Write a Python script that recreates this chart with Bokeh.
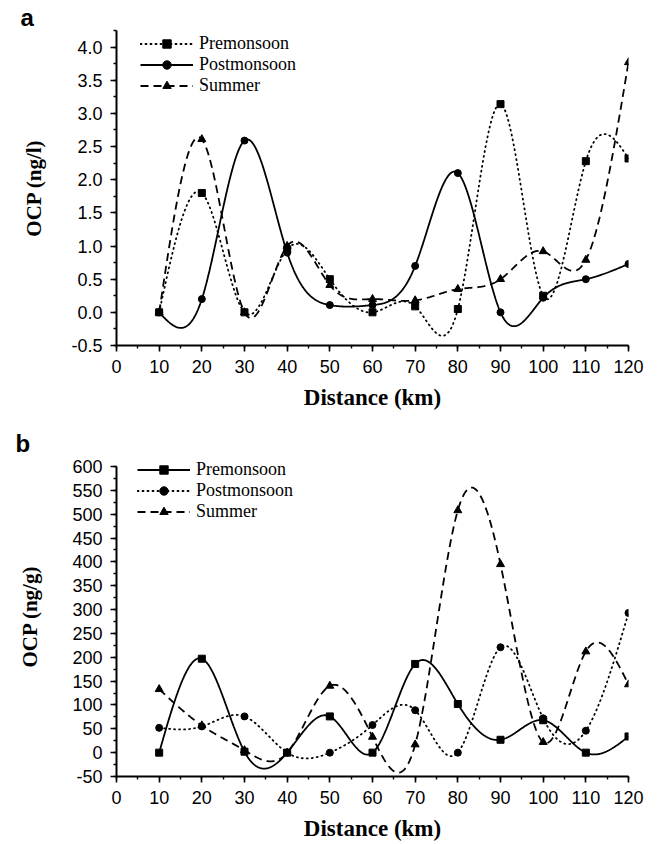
import numpy as np
from bokeh.plotting import figure
from bokeh.layouts import column
from bokeh.models import (Range1d, SingleIntervalTicker, PrintfTickFormatter,
                          Legend, LegendItem)
from bokeh.embed import file_html
from bokeh.resources import INLINE

# ---------------- data ----------------
distance = [10, 20, 30, 40, 50, 60, 70, 80, 90, 100, 110, 120]

# panel a : water (ng/l)
a_premonsoon = [0.0, 1.8, 0.0, 0.95, 0.5, 0.0, 0.09, 0.05, 3.14, 0.25, 2.28, 2.32]
a_postmonsoon = [0.0, 0.2, 2.59, 0.9, 0.11, 0.11, 0.7, 2.1, 0.0, 0.22, 0.5, 0.73]
a_summer = [0.0, 2.61, 0.0, 1.0, 0.41, 0.2, 0.18, 0.35, 0.5, 0.92, 0.79, 3.77]

# panel b : sediment (ng/g)
b_premonsoon = [0, 197, 2, 0, 76, 0, 186, 102, 27, 68, 0, 34]
b_postmonsoon = [52, 55, 76, 0, 0, 58, 89, 0, 221, 72, 46, 293]
b_summer = [133, 57, 5, 0, 140, 33, 17, 508, 395, 22, 212, 143]

series_names = ["Premonsoon", "Postmonsoon", "Summer"]


def spline_path(x, y, n=700):
    """Natural cubic spline through the data points (line style 'spline')."""
    x = np.asarray(x, float)
    y = np.asarray(y, float)
    h = np.diff(x)
    N = len(x)
    A = np.zeros((N, N))
    r = np.zeros(N)
    A[0, 0] = 1
    A[-1, -1] = 1
    for i in range(1, N - 1):
        A[i, i - 1] = h[i - 1]
        A[i, i] = 2 * (h[i - 1] + h[i])
        A[i, i + 1] = h[i]
        r[i] = 3 * ((y[i + 1] - y[i]) / h[i] - (y[i] - y[i - 1]) / h[i - 1])
    c = np.linalg.solve(A, r)
    b = (y[1:] - y[:-1]) / h - h * (2 * c[:-1] + c[1:]) / 3
    d = (c[1:] - c[:-1]) / (3 * h)
    xs = np.linspace(x[0], x[-1], n)
    idx = np.clip(np.searchsorted(x, xs, side="right") - 1, 0, N - 2)
    dx = xs - x[idx]
    ys = y[idx] + b[idx] * dx + c[idx] * dx ** 2 + d[idx] * dx ** 3
    return xs, ys


TICK_FONT = "Liberation Sans"
SERIF = "Liberation Serif"


def style_axes(p, y_interval, y_fmt, ylabel, y_bounds, ylab_standoff):
    p.outline_line_color = None
    p.xgrid.visible = False
    p.ygrid.visible = False
    p.background_fill_color = "white"
    p.border_fill_color = "white"
    p.xaxis.ticker = SingleIntervalTicker(interval=10, num_minor_ticks=2)
    p.yaxis.ticker = SingleIntervalTicker(interval=y_interval, num_minor_ticks=2)
    p.yaxis.formatter = PrintfTickFormatter(format=y_fmt)
    p.yaxis.bounds = y_bounds
    for ax in (p.xaxis, p.yaxis):
        ax.axis_line_width = 2
        ax.axis_line_color = "black"
        ax.major_tick_line_width = 1.6
        ax.minor_tick_line_width = 1.4
        ax.major_tick_out = 6
        ax.major_tick_in = 0
        ax.minor_tick_out = 3
        ax.minor_tick_in = 0
        ax.major_label_text_font = TICK_FONT
        ax.major_label_text_font_size = "18px"
        ax.major_label_text_color = "black"
        ax.axis_label_text_font = SERIF
        ax.axis_label_text_font_style = "bold"
        ax.axis_label_text_color = "black"
    p.xaxis.axis_label_text_font_size = "23px"
    p.yaxis.axis_label_text_font_size = "21px"
    p.xaxis.major_label_standoff = 8
    p.xaxis.axis_label_standoff = 9
    p.yaxis.major_label_standoff = 8
    p.yaxis.axis_label_standoff = ylab_standoff
    p.xaxis.axis_label = "Distance (km)"
    p.yaxis.axis_label = ylabel


def add_series(p, y, dash, marker, msize):
    xs, ys = spline_path(distance, y)
    lr = p.line(xs, ys, line_color="black", line_width=1.8, line_dash=dash,
                line_cap="round" if dash == "1 4" else "butt")
    sr = p.scatter(distance, y, marker=marker, size=msize, fill_color="black",
                   line_color="black")
    return lr, sr


def make_legend(p, items, loc):
    leg = Legend(items=items, location=loc)
    leg.background_fill_alpha = 0
    leg.border_line_color = None
    leg.padding = 0
    leg.margin = 0
    leg.spacing = 0
    leg.glyph_width = 53
    leg.glyph_height = 21
    leg.label_height = 21
    leg.label_standoff = 6
    leg.label_text_font = SERIF
    leg.label_text_font_size = "18px"
    leg.label_text_color = "black"
    p.add_layout(leg)


def panel_title(p, text, offset):
    p.title.text = text
    p.title.align = "left"
    p.title.offset = offset
    p.title.standoff = 0
    p.title.text_font = TICK_FONT
    p.title.text_font_style = "bold"
    p.title.text_font_size = "24px"
    p.title.text_color = "black"


# ---------------- panel a ----------------
pa = figure(width=655, height=413, x_range=Range1d(0, 120),
            y_range=Range1d(-0.5, 4.25), output_backend="svg",
            toolbar_location=None, min_border_left=111, min_border_right=27,
            min_border_top=30, min_border_bottom=68)
style_axes(pa, 0.5, "%.1f", "OCP (ng/l)", (-0.5, 4.25), 22)
panel_title(pa, "a", -96)
a1 = add_series(pa, a_premonsoon, "1 4", "square", 7)
a2 = add_series(pa, a_postmonsoon, "solid", "circle", 7)
a3 = add_series(pa, a_summer, "8 5", "triangle", 8)
make_legend(pa, [LegendItem(label=series_names[0], renderers=list(a1)),
                 LegendItem(label=series_names[1], renderers=list(a2)),
                 LegendItem(label=series_names[2], renderers=list(a3))],
            (24, 249))

# ---------------- panel b ----------------
pb = figure(width=655, height=430, x_range=Range1d(0, 120),
            y_range=Range1d(-50, 621), output_backend="svg",
            toolbar_location=None, min_border_left=116, min_border_right=21,
            min_border_top=43, min_border_bottom=67)
style_axes(pb, 50, "%d", "OCP (ng/g)", (-50, 600), 27)
panel_title(pb, "b", -101)
b1 = add_series(pb, b_premonsoon, "solid", "square", 7)
b2 = add_series(pb, b_postmonsoon, "1 4", "circle", 7)
b3 = add_series(pb, b_summer, "8 5", "triangle", 8)
make_legend(pb, [LegendItem(label=series_names[0], renderers=list(b1)),
                 LegendItem(label=series_names[1], renderers=list(b2)),
                 LegendItem(label=series_names[2], renderers=list(b3))],
            (21, 254))

layout = column(pa, pb)
open("out.html", "w").write(file_html(layout, INLINE))
